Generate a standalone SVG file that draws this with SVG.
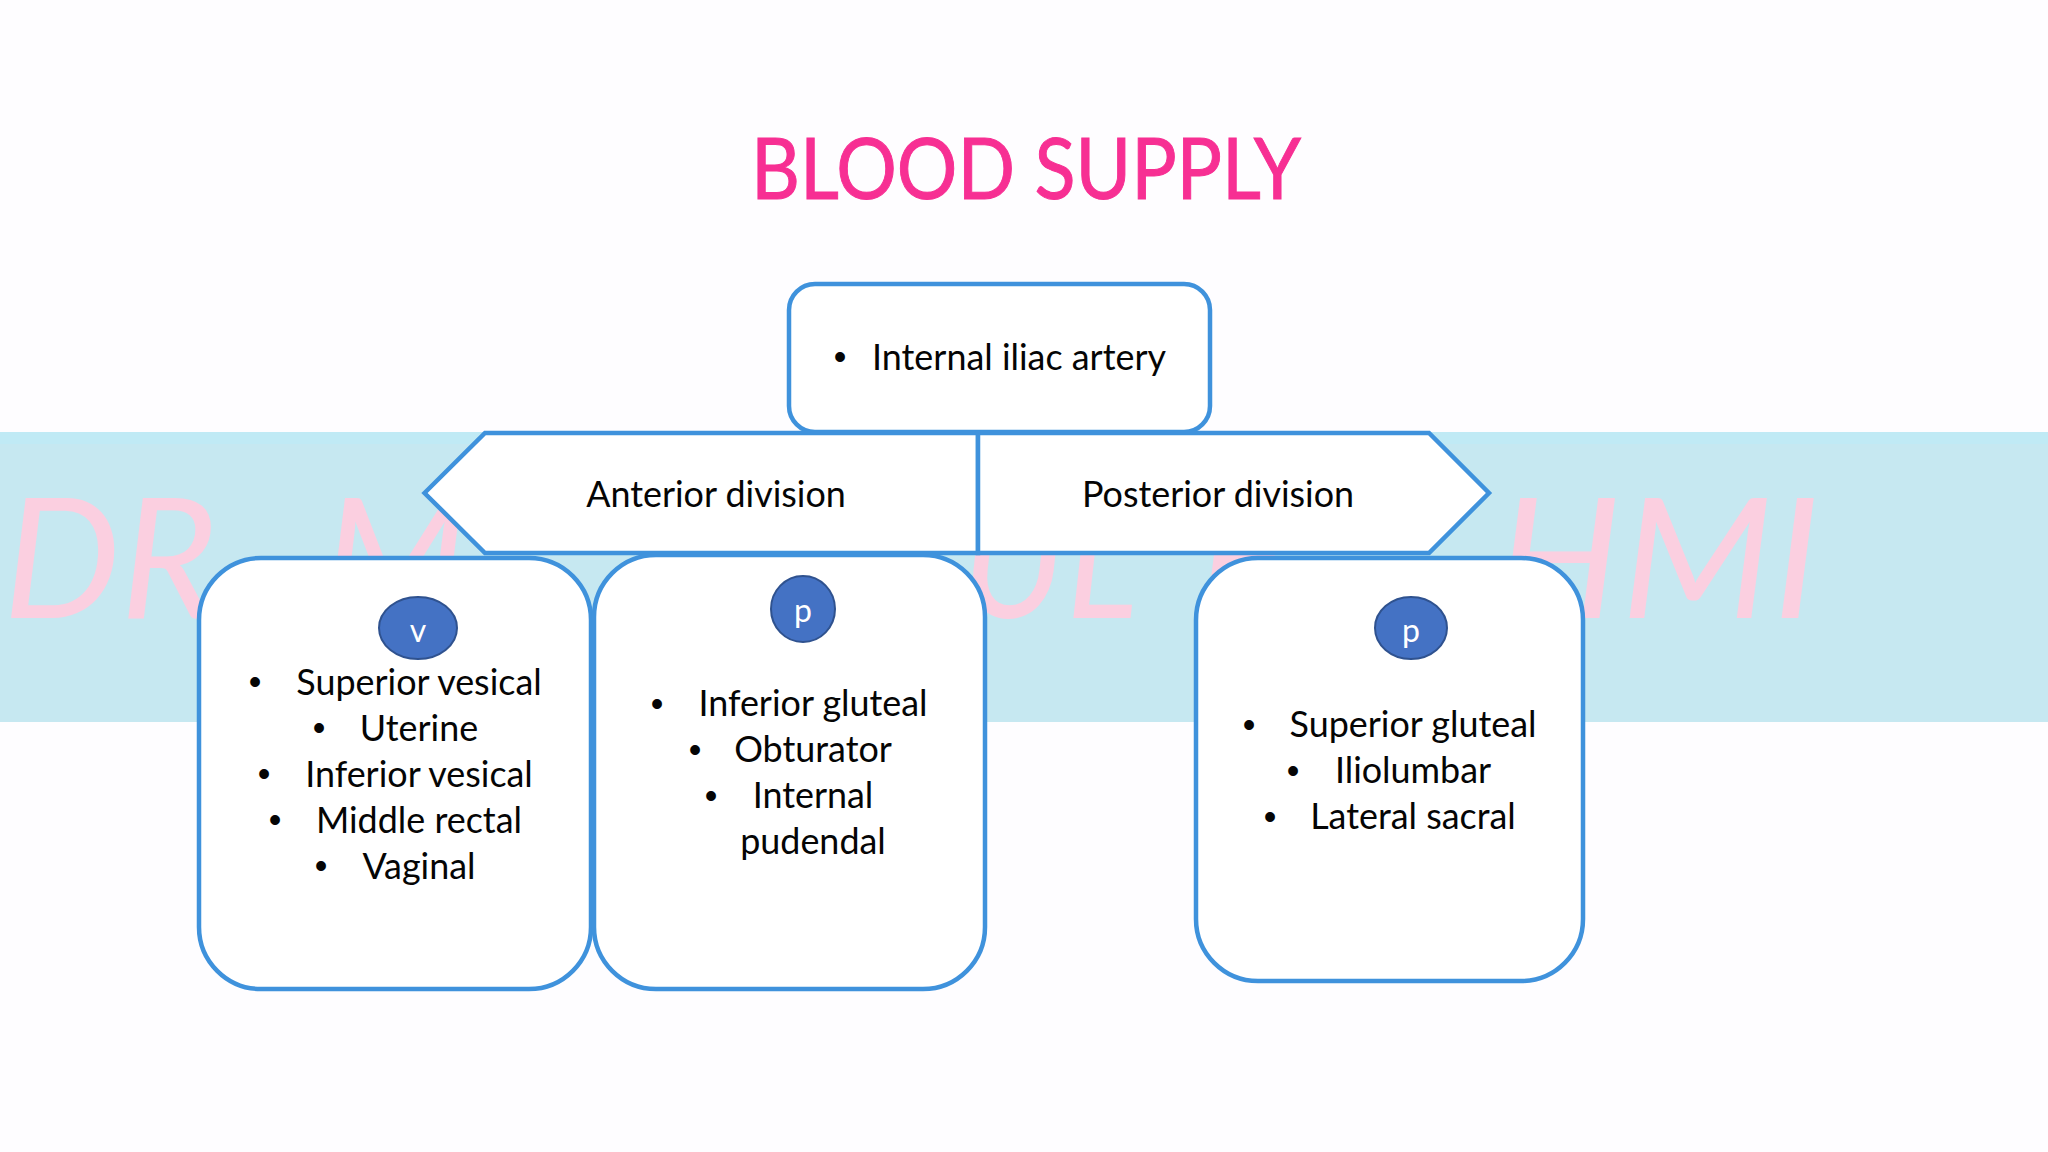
<svg xmlns="http://www.w3.org/2000/svg" width="2048" height="1152" viewBox="0 0 2048 1152">
<style>
.n{fill:#fff;stroke:#3f92dc;stroke-width:4.5;stroke-linejoin:miter}
.t{font-family:Lato,"Open Sans",sans-serif;font-size:35.900px;fill:#050505;text-anchor:middle}
.b{font-family:"Liberation Sans",sans-serif;font-size:36px;fill:#050505;text-anchor:middle}
.w{font-family:Lato,"Open Sans",sans-serif;font-weight:400;font-style:italic;font-size:168px;fill:#fbcfe0}
.c{fill:#4472c4;stroke:#2f528f;stroke-width:2}
.l{font-family:Lato,"Open Sans",sans-serif;font-size:32px;fill:#fff;text-anchor:middle}
</style>
<rect id="background" width="2048" height="1152" fill="#fefdff"/>
<g id="band">
<rect x="0" y="432" width="2048" height="290" fill="#c6e8f1"/>
<rect x="0" y="432" width="2048" height="12" fill="#c0eaf5"/>
<text class="w" x="3" y="618" textLength="214" lengthAdjust="spacingAndGlyphs">DR</text>
<text class="w" x="322" y="618">M</text>
<text class="w" x="962" y="618" textLength="176" lengthAdjust="spacingAndGlyphs">UL</text>
<text class="w" x="1198" y="618">F</text>
<text class="w" x="1496" y="618" textLength="324" lengthAdjust="spacingAndGlyphs">HMI</text>
</g>
<text id="title" x="1026" y="199" text-anchor="middle" font-family="Lato,'Open Sans',sans-serif" font-size="85" fill="#f72f93" stroke="#f72f93" stroke-width="1" textLength="550" lengthAdjust="spacingAndGlyphs">BLOOD SUPPLY</text>
<g id="connectors"></g>
<g id="node-internal-iliac">
<rect class="n" x="789" y="284" width="421" height="148" rx="26"/>
<text class="b" x="840" y="369">•</text>
<text class="t" x="1019" y="370">Internal iliac artery</text>
</g>
<g id="node-anterior-division">
<polygon class="n" points="424.500,493 485,433 978,433 978,553 485,553"/>
<text class="t" x="716" y="507">Anterior division</text>
</g>
<g id="node-posterior-division">
<polygon class="n" points="978,433 1429,433 1489,493 1429,553 978,553"/>
<text class="t" x="1218" y="507">Posterior division</text>
</g>
<g id="node-visceral">
<rect class="n" x="199" y="558" width="392" height="431" rx="62"/>
<ellipse class="c" cx="418" cy="628" rx="39" ry="31"/>
<text class="l" x="418" y="642">v</text>
<text class="b" x="255" y="694">•</text><text class="t" x="419" y="695">Superior vesical</text>
<text class="b" x="319" y="740">•</text><text class="t" x="419" y="741">Uterine</text>
<text class="b" x="264" y="786">•</text><text class="t" x="419" y="787">Inferior vesical</text>
<text class="b" x="275" y="832">•</text><text class="t" x="419" y="833">Middle rectal</text>
<text class="b" x="321" y="878">•</text><text class="t" x="419" y="879">Vaginal</text>
</g>
<g id="node-parietal-anterior">
<rect class="n" x="594" y="555" width="391" height="434" rx="62"/>
<ellipse class="c" cx="803" cy="609" rx="32" ry="33"/>
<text class="l" x="803" y="622">p</text>
<text class="b" x="657" y="716">•</text><text class="t" x="813" y="716">Inferior gluteal</text>
<text class="b" x="695" y="762">•</text><text class="t" x="813" y="762">Obturator</text>
<text class="b" x="711" y="808">•</text><text class="t" x="813" y="808">Internal</text>
<text class="t" x="813" y="854">pudendal</text>
</g>
<g id="node-parietal-posterior">
<rect class="n" x="1196" y="558" width="387" height="423" rx="62"/>
<ellipse class="c" cx="1411" cy="628" rx="36" ry="31"/>
<text class="l" x="1411" y="642">p</text>
<text class="b" x="1249" y="737">•</text><text class="t" x="1413" y="737">Superior gluteal</text>
<text class="b" x="1293" y="783">•</text><text class="t" x="1413" y="783">Iliolumbar</text>
<text class="b" x="1270" y="829">•</text><text class="t" x="1413" y="829">Lateral sacral</text>
</g>
</svg>
